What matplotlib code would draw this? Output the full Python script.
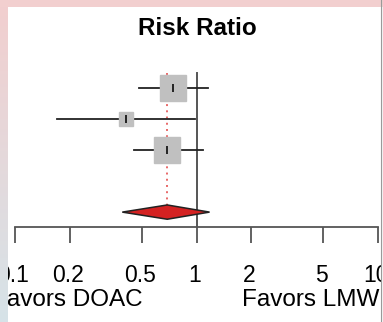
import matplotlib
matplotlib.use('Agg')
import matplotlib.pyplot as plt
import matplotlib.transforms as mtransforms
import numpy as np
from matplotlib.patches import Polygon, Rectangle
from matplotlib.lines import Line2D

plt.rcParams['font.family'] = ['Liberation Sans', 'DejaVu Sans']

# study results (risk ratio with 95% CI)
rr = [0.74, 0.41, 0.69]
ci_low = [0.48, 0.17, 0.45]
ci_high = [1.15, 0.975, 1.09]
weights = [42.5, 11.5, 46.0]
rows = [0, 1, 2]

# pooled estimate
pooled_rr = 0.69
pooled_low = 0.39
pooled_high = 1.18
pooled_row = 4

ticks = [0.1, 0.2, 0.5, 1, 2, 5, 10]
tick_labels = ['0.1', '0.2', '0.5', '1', '2', '5', '10']
label_left = 'Favors DOAC'
label_right = 'Favors LMWH'
title = 'Risk Ratio'

W, H = 383, 322
def fx(px):
    return px / W
def fy(py):
    return 1 - py / H

fig = plt.figure(figsize=(W / 100, H / 100), dpi=100)
fig.patch.set_facecolor('white')

ax = fig.add_axes([fx(15), fy(227), fx(378) - fx(15), fy(60) - fy(227)])
ax.set_xscale('log')
ax.set_xlim(0.1, 10)
ax.set_ylim(4.48, -0.9)
ax.patch.set_alpha(0)

# reference line at 1 and dotted line at the pooled estimate
ax.plot([1, 1], [-0.48, 4.48], color='#555555', lw=1.4, clip_on=False, zorder=1)
h = 0.23
ax.plot([pooled_rr, pooled_rr], [-0.48, pooled_row - h], color='#e86868',
        lw=1.4, ls=(0, (1, 2.2)), zorder=1)

side_max = 19
for r, est, lo, hi, w in zip(rows, rr, ci_low, ci_high, weights):
    ax.plot([lo, hi], [r, r], color='#222222', lw=1.3, zorder=2)
    ms = side_max * np.sqrt(w / max(weights))
    ax.plot(est, r, marker='s', ms=ms, color='#c0c0c0', mec='#c0c0c0', zorder=3)
    ax.plot(est, r, marker='|', ms=5.5, mew=1.4, color='#222222', zorder=4)

diamond = Polygon([[pooled_low, pooled_row], [pooled_rr, pooled_row - h],
                   [pooled_high, pooled_row], [pooled_rr, pooled_row + h]],
                  closed=True, facecolor='#d42222', edgecolor='#222222', lw=1.1, zorder=3)
ax.add_patch(diamond)

for s in ['top', 'left', 'right']:
    ax.spines[s].set_visible(False)
ax.spines['bottom'].set_color('#555555')
ax.spines['bottom'].set_linewidth(1.3)
ax.set_yticks([])
ax.set_xticks(ticks)
ax.set_xticklabels(tick_labels)
ax.minorticks_off()
ax.tick_params(axis='x', length=11.5, width=1.3, color='#555555', pad=15,
               labelsize=16.5, labelcolor='black')
shift = mtransforms.ScaledTranslation(-2 / 100, 0, fig.dpi_scale_trans)
for lab in ax.get_xticklabels():
    lab.set_transform(lab.get_transform() + shift)

fig.text(fx(197), fy(35), title, ha='center', va='baseline', fontsize=17.5,
         fontweight='bold')
fig.text(fx(143), fy(306), label_left, ha='right', va='baseline', fontsize=17.5)
fig.text(fx(242), fy(306), label_right, ha='left', va='baseline', fontsize=17.5)

# slide-like frame around the chart (drawn over the edges)
frame = fig.add_axes([0, 0, 1, 1], zorder=10)
frame.axis('off')
frame.patch.set_alpha(0)
frame.add_patch(Rectangle((0, 0), W, 7, color='#f2cfcf', lw=0))
grad = np.linspace(0, 1, 100)[:, None, None]
top_c = np.array([0.95, 0.81, 0.81])
bot_c = np.array([0.84, 0.89, 0.91])
frame.imshow(top_c * (1 - grad) + bot_c * grad, aspect='auto',
             extent=(0, 8, H, 0))
frame.add_patch(Rectangle((381.5, 7), 2, H, color='#f4f4f4', lw=0))
frame.add_artist(Line2D([381, 381], [0, H], color='#9a9a9a', lw=0.8))
frame.set_xlim(0, W)
frame.set_ylim(H, 0)

fig.savefig('out.png', dpi=100)
